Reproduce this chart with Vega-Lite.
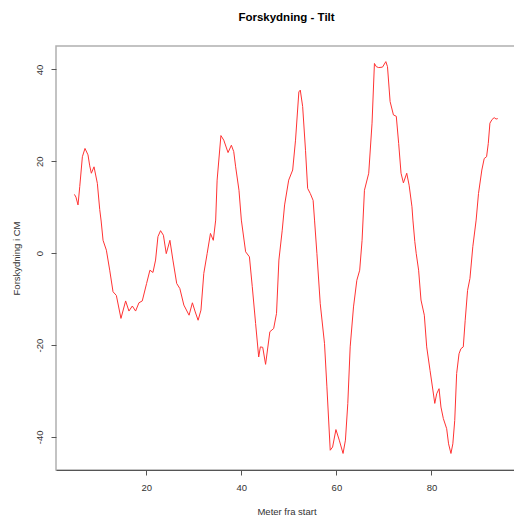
{
  "$schema": "https://vega.github.io/schema/vega-lite/v6.json",
  "width": 461,
  "height": 424,
  "autosize": {"type": "none"},
  "padding": {"left": 56, "top": 46, "right": 0, "bottom": 46},
  "background": "white",
  "title": {
    "text": "Forskydning - Tilt",
    "font": "Liberation Sans",
    "fontSize": 11.5,
    "fontWeight": "bold",
    "color": "#000000",
    "anchor": "middle",
    "baseline": "middle",
    "offset": 17
  },
  "config": {
    "view": {"stroke": "#b0b0b0", "strokeWidth": 1.5}
  },
  "data": {
    "values": [
      {"m": 4.87, "cm": 12.8}, {"m": 5.2, "cm": 12.2}, {"m": 5.63, "cm": 10.5}, {"m": 6.0, "cm": 14.5},
      {"m": 6.55, "cm": 21.0}, {"m": 7.1, "cm": 22.8}, {"m": 7.73, "cm": 21.4}, {"m": 8.1, "cm": 19.0},
      {"m": 8.44, "cm": 17.4}, {"m": 9.0, "cm": 18.8}, {"m": 9.7, "cm": 15.2}, {"m": 10.2, "cm": 9.5},
      {"m": 10.5, "cm": 7.0}, {"m": 10.9, "cm": 2.8}, {"m": 11.6, "cm": 0.65}, {"m": 12.3, "cm": -3.7},
      {"m": 13.0, "cm": -8.4}, {"m": 13.7, "cm": -9.2}, {"m": 14.67, "cm": -14.2}, {"m": 15.65, "cm": -10.4},
      {"m": 16.35, "cm": -12.6}, {"m": 17.06, "cm": -11.5}, {"m": 17.75, "cm": -12.6}, {"m": 18.45, "cm": -10.8},
      {"m": 19.15, "cm": -10.4}, {"m": 20.06, "cm": -6.6}, {"m": 20.76, "cm": -3.7}, {"m": 21.4, "cm": -4.2},
      {"m": 21.95, "cm": -1.5}, {"m": 22.45, "cm": 3.6}, {"m": 23.0, "cm": 4.9}, {"m": 23.6, "cm": 3.9},
      {"m": 24.2, "cm": -0.1}, {"m": 24.97, "cm": 2.8}, {"m": 25.6, "cm": -1.5}, {"m": 26.4, "cm": -6.6},
      {"m": 27.06, "cm": -7.7}, {"m": 27.9, "cm": -11.3}, {"m": 29.0, "cm": -13.5}, {"m": 29.7, "cm": -10.8},
      {"m": 30.3, "cm": -12.8}, {"m": 30.9, "cm": -14.6}, {"m": 31.5, "cm": -12.4}, {"m": 32.1, "cm": -4.4},
      {"m": 32.8, "cm": -0.1}, {"m": 33.5, "cm": 4.3}, {"m": 34.1, "cm": 2.8}, {"m": 34.6, "cm": 7.2},
      {"m": 34.9, "cm": 15.9}, {"m": 35.7, "cm": 25.6}, {"m": 36.3, "cm": 24.6}, {"m": 37.2, "cm": 21.9},
      {"m": 37.9, "cm": 23.5}, {"m": 38.4, "cm": 22.1}, {"m": 38.8, "cm": 18.8}, {"m": 39.5, "cm": 13.7},
      {"m": 40.0, "cm": 7.2}, {"m": 40.9, "cm": 0.3}, {"m": 41.7, "cm": -0.8}, {"m": 42.3, "cm": -7.3},
      {"m": 43.0, "cm": -15.3}, {"m": 43.65, "cm": -22.6}, {"m": 44.0, "cm": -20.4}, {"m": 44.5, "cm": -20.5},
      {"m": 45.1, "cm": -24.2}, {"m": 46.0, "cm": -17.1}, {"m": 46.8, "cm": -16.4}, {"m": 47.4, "cm": -13.1},
      {"m": 47.9, "cm": -1.5}, {"m": 48.6, "cm": 5.0}, {"m": 49.1, "cm": 10.5}, {"m": 49.96, "cm": 15.9},
      {"m": 50.8, "cm": 18.1}, {"m": 51.4, "cm": 24.6}, {"m": 52.1, "cm": 35.1}, {"m": 52.4, "cm": 35.5},
      {"m": 52.9, "cm": 31.9}, {"m": 53.5, "cm": 22.4}, {"m": 53.95, "cm": 14.1}, {"m": 54.5, "cm": 13.0},
      {"m": 55.1, "cm": 11.5}, {"m": 55.4, "cm": 7.2}, {"m": 55.9, "cm": -0.1}, {"m": 56.6, "cm": -11.0},
      {"m": 57.5, "cm": -19.7}, {"m": 58.0, "cm": -29.1}, {"m": 58.7, "cm": -42.9}, {"m": 59.2, "cm": -42.2},
      {"m": 59.9, "cm": -38.4}, {"m": 60.6, "cm": -40.7}, {"m": 61.4, "cm": -43.6}, {"m": 61.9, "cm": -40.7},
      {"m": 62.4, "cm": -32.7}, {"m": 62.9, "cm": -20.4}, {"m": 63.6, "cm": -11.7}, {"m": 64.3, "cm": -5.9},
      {"m": 64.9, "cm": -3.7}, {"m": 65.4, "cm": 2.8}, {"m": 65.9, "cm": 13.7}, {"m": 66.8, "cm": 17.4},
      {"m": 67.5, "cm": 28.3}, {"m": 68.0, "cm": 41.3}, {"m": 68.4, "cm": 40.6}, {"m": 68.9, "cm": 40.4},
      {"m": 69.7, "cm": 40.5}, {"m": 70.4, "cm": 41.7}, {"m": 70.75, "cm": 40.6}, {"m": 71.3, "cm": 33.0},
      {"m": 72.0, "cm": 30.1}, {"m": 72.6, "cm": 29.8}, {"m": 73.1, "cm": 23.9}, {"m": 73.6, "cm": 17.4},
      {"m": 74.1, "cm": 15.3}, {"m": 74.8, "cm": 17.4}, {"m": 75.3, "cm": 14.8}, {"m": 75.9, "cm": 10.1},
      {"m": 76.1, "cm": 7.2}, {"m": 76.5, "cm": 2.5}, {"m": 76.8, "cm": -0.1}, {"m": 77.3, "cm": -3.7},
      {"m": 77.8, "cm": -10.2}, {"m": 78.5, "cm": -13.5}, {"m": 79.0, "cm": -20.4}, {"m": 79.7, "cm": -25.5},
      {"m": 80.3, "cm": -29.8}, {"m": 80.7, "cm": -32.7}, {"m": 81.1, "cm": -30.6}, {"m": 81.6, "cm": -29.5},
      {"m": 82.0, "cm": -33.5}, {"m": 82.5, "cm": -36.0}, {"m": 83.2, "cm": -38.2}, {"m": 83.6, "cm": -41.5},
      {"m": 84.1, "cm": -43.6}, {"m": 84.5, "cm": -41.5}, {"m": 84.9, "cm": -36.4}, {"m": 85.3, "cm": -26.2},
      {"m": 85.8, "cm": -21.9}, {"m": 86.2, "cm": -20.8}, {"m": 86.7, "cm": -20.4}, {"m": 87.1, "cm": -14.6},
      {"m": 87.6, "cm": -8.1}, {"m": 88.1, "cm": -5.5}, {"m": 88.7, "cm": 1.4}, {"m": 89.4, "cm": 7.2},
      {"m": 89.9, "cm": 13.0}, {"m": 90.6, "cm": 18.1}, {"m": 91.1, "cm": 20.6}, {"m": 91.6, "cm": 21.0},
      {"m": 91.96, "cm": 23.9}, {"m": 92.3, "cm": 28.3}, {"m": 92.75, "cm": 29.1}, {"m": 93.2, "cm": 29.5},
      {"m": 93.6, "cm": 29.2}, {"m": 93.95, "cm": 29.3}
    ]
  },
  "mark": {"type": "line", "color": "#ff3333", "strokeWidth": 1, "clip": true},
  "encoding": {
    "x": {
      "field": "m",
      "type": "quantitative",
      "scale": {"domain": [1, 98], "nice": false, "zero": false},
      "axis": {
        "values": [20, 40, 60, 80],
        "title": "Meter fra start",
        "grid": false,
        "domainColor": "#555555",
        "domainWidth": 1,
        "tickColor": "#555555",
        "tickSize": 5,
        "labelPadding": 7.5,
        "labelFont": "Liberation Sans",
        "labelFontSize": 9.5,
        "labelColor": "#333333",
        "titleFont": "Liberation Sans",
        "titleFontSize": 9.5,
        "titleFontWeight": "normal",
        "titleColor": "#333333",
        "titleBaseline": "middle",
        "titleY": 41
      }
    },
    "y": {
      "field": "cm",
      "type": "quantitative",
      "scale": {"domain": [-47.2, 45.1], "nice": false, "zero": false},
      "axis": {
        "values": [-40, -20, 0, 20, 40],
        "labelExpr": "'' + datum.value",
        "title": "Forskydning i CM",
        "grid": false,
        "domain": false,
        "tickColor": "#555555",
        "tickSize": 5,
        "labelAngle": 270,
        "labelAlign": "center",
        "labelBaseline": "middle",
        "labelPadding": 12,
        "labelFont": "Liberation Sans",
        "labelFontSize": 9.5,
        "labelColor": "#333333",
        "titleFont": "Liberation Sans",
        "titleFontSize": 9.5,
        "titleFontWeight": "normal",
        "titleColor": "#333333",
        "titleAngle": 270,
        "titleAlign": "center",
        "titleBaseline": "middle",
        "titleX": -40,
        "titleY": 212
      }
    }
  }
}
